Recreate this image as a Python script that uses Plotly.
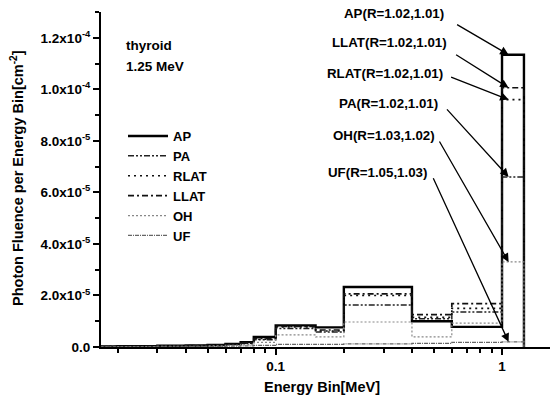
import math
import plotly.graph_objects as go

# Energy bin edges [MeV]
bin_edges = [0.01, 0.02, 0.03, 0.04, 0.05, 0.06, 0.07, 0.08, 0.1, 0.15, 0.2, 0.4, 0.6, 1.0, 1.25]
# photon fluence per bin, units of 1e-5 cm^-2
AP   = [0.02, 0.03, 0.05, 0.06, 0.08, 0.12, 0.19, 0.39, 0.84, 0.76, 2.33, 1.00, 0.78, 11.34]
PA   = [0.02, 0.02, 0.04, 0.05, 0.06, 0.09, 0.14, 0.28, 0.72, 0.58, 1.63, 1.10, 1.36, 6.60]
RLAT = [0.02, 0.03, 0.04, 0.05, 0.07, 0.10, 0.15, 0.30, 0.78, 0.62, 2.00, 1.15, 1.50, 9.60]
LLAT = [0.02, 0.03, 0.04, 0.05, 0.07, 0.10, 0.16, 0.33, 0.80, 0.66, 2.06, 1.26, 1.68, 10.06]
OH   = [0.01, 0.02, 0.03, 0.03, 0.04, 0.06, 0.09, 0.18, 0.47, 0.39, 0.97, 0.39, 0.93, 3.30]
UF   = [0.01, 0.01, 0.01, 0.02, 0.02, 0.03, 0.04, 0.06, 0.10, 0.10, 0.12, 0.14, 0.18, 0.20]

series_names = ["AP", "PA", "RLAT", "LLAT", "OH", "UF"]
series_vals = [AP, PA, RLAT, LLAT, OH, UF]
ratio_labels = {"AP": "AP(R=1.02,1.01)", "LLAT": "LLAT(R=1.02,1.01)", "RLAT": "RLAT(R=1.02,1.01)",
                "PA": "PA(R=1.02,1.01)", "OH": "OH(R=1.03,1.02)", "UF": "UF(R=1.05,1.03)"}

y_ticks = [0, 2e-5, 4e-5, 6e-5, 8e-5, 1.0e-4, 1.2e-4]
y_ticktext = ["0.0", "2.0x10<sup>-5</sup>", "4.0x10<sup>-5</sup>", "6.0x10<sup>-5</sup>",
              "8.0x10<sup>-5</sup>", "1.0x10<sup>-4</sup>", "1.2x10<sup>-4</sup>"]
x_ticks = [0.1, 1]
x_ticktext = ["0.1", "1"]

styles = {
    "AP":   dict(color="#000000", width=2.4, dash="solid"),
    "PA":   dict(color="#222222", width=1.5, dash="6px,2px,2px,2px,2px,2px"),
    "RLAT": dict(color="#111111", width=1.6, dash="2px,4px"),
    "LLAT": dict(color="#111111", width=1.7, dash="6px,3px,2px,3px"),
    "OH":   dict(color="#888888", width=1.2, dash="2px,2px"),
    "UF":   dict(color="#666666", width=1.2, dash="4px,1px,1px,1px"),
}

FONT = "Liberation Sans, Arial, sans-serif"
fig = go.Figure()
for name, vals in zip(series_names, series_vals):
    y = [v * 1e-5 for v in vals] + [0.0]
    fig.add_trace(go.Scatter(x=bin_edges, y=y, mode="lines", line_shape="hv",
                             name="<b>" + name + "</b>", line=styles[name]))

W, H = 552, 404
ML, MR, MT, MB = 101, 2, 12, 57
PW, PH = W - ML - MR, H - MT - MB

def px(xp):
    return (xp - ML) / PW

def py(yp):
    return (H - MB - yp) / PH

annots = []
lo, hi = math.log10(bin_edges[-2]), math.log10(bin_edges[-1])
label_pos = {"AP": (446, 13, -53, -31), "LLAT": (449, 43, -54, -34), "RLAT": (445, 73, -59, -23),
             "PA": (440, 103, -63, -69), "OH": (437, 135, -70, -122), "UF": (429, 172, -76, -165)}
for name, vals in zip(series_names, series_vals):
    rx, ry, ax, ay = label_pos[name]
    annots.append(dict(x=px(rx), y=py(ry), xref="paper", yref="paper", xanchor="right", yanchor="middle",
                       text="<b>" + ratio_labels[name] + "</b>", showarrow=False,
                       font=dict(family=FONT, size=13.3, color="black")))
    annots.append(dict(x=lo + 0.3 * (hi - lo), y=vals[-1] * 1e-5, xref="x", yref="y", text="",
                       showarrow=True, ax=ax, ay=ay, arrowhead=2, arrowsize=1.3, arrowwidth=1.3,
                       arrowcolor="black"))

annots.append(dict(x=px(124), y=py(45), xref="paper", yref="paper", xanchor="left", yanchor="middle",
                   text="<b>thyroid</b>", showarrow=False, font=dict(family=FONT, size=13.5, color="black")))
annots.append(dict(x=px(124), y=py(66), xref="paper", yref="paper", xanchor="left", yanchor="middle",
                   text="<b>1.25 MeV</b>", showarrow=False, font=dict(family=FONT, size=13.5, color="black")))
annots.append(dict(x=px(322), y=py(387), xref="paper", yref="paper", xanchor="center", yanchor="middle",
                   text="<b>Energy Bin[MeV]</b>", showarrow=False, font=dict(family=FONT, size=14.5, color="black")))
annots.append(dict(x=px(17), y=py(178), xref="paper", yref="paper", xanchor="center", yanchor="middle",
                   textangle=-90, text="<b>Photon Fluence per Energy Bin[cm<sup>-2</sup>]</b>", showarrow=False,
                   font=dict(family=FONT, size=14.5, color="black")))

minor_x = [d * 10 ** e for e in (-2, -1, 0) for d in range(2, 10)]

fig.update_layout(
    width=W, height=H, margin=dict(l=ML, r=MR, t=MT, b=MB),
    paper_bgcolor="white", plot_bgcolor="white",
    font=dict(family=FONT, size=13, color="black"),
    showlegend=True,
    legend=dict(x=px(123), y=py(121), xanchor="left", yanchor="top", bgcolor="rgba(0,0,0,0)",
                font=dict(family=FONT, size=13, color="black"), tracegroupgap=0, itemwidth=40),
    annotations=annots,
    xaxis=dict(type="log", range=[-1.772, 0.212], showgrid=False, zeroline=False,
               showline=True, linecolor="black", linewidth=2,
               tickmode="array", tickvals=x_ticks, ticktext=["<b>%s</b>" % t for t in x_ticktext],
               ticks="outside", ticklen=6, tickwidth=2, tickcolor="black",
               tickfont=dict(family=FONT, size=13.5, color="black"),
               minor=dict(tickmode="array", tickvals=minor_x, ticks="outside", ticklen=4,
                          tickwidth=1.5, tickcolor="black")),
    yaxis=dict(range=[0, 1.3e-4], showgrid=False, zeroline=False,
               showline=True, linecolor="black", linewidth=2,
               tickmode="array", tickvals=y_ticks, ticktext=["<b>%s</b>" % t for t in y_ticktext],
               ticks="outside", ticklen=6, tickwidth=2, tickcolor="black",
               tickfont=dict(family=FONT, size=13.5, color="black"),
               minor=dict(dtick=1e-5, ticks="outside", ticklen=4, tickwidth=1.5, tickcolor="black")),
)

fig.write_html("out.html", config={"displayModeBar": False},
               post_script="document.body.style.margin='0px';")
